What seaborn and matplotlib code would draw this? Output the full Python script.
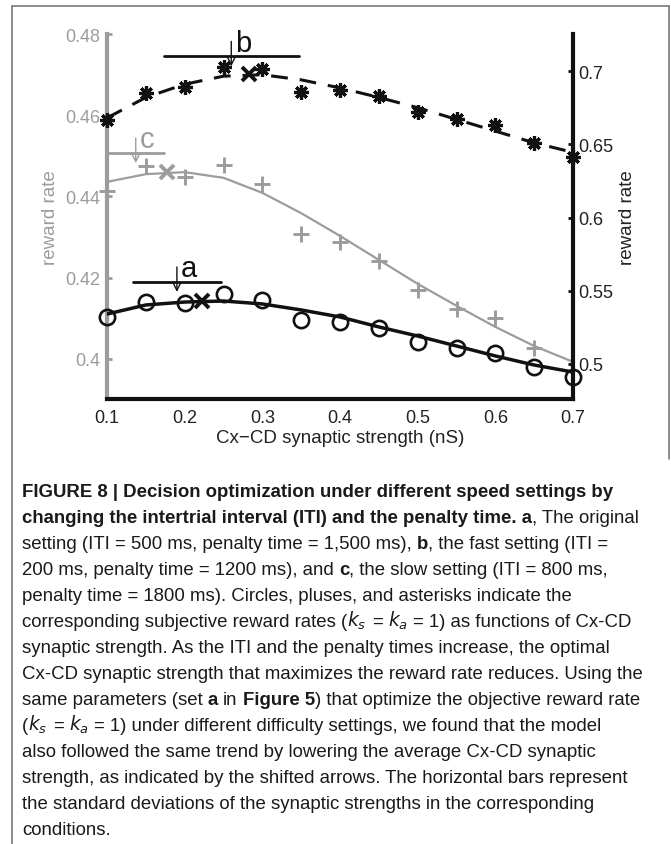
import matplotlib
matplotlib.use("Agg")
import matplotlib.pyplot as plt
import seaborn as sns
from matplotlib.transforms import ScaledTranslation
from matplotlib.lines import Line2D

# ---------------- data ----------------
x_strength = [0.1, 0.15, 0.2, 0.25, 0.3, 0.35, 0.4, 0.45, 0.5, 0.55, 0.6, 0.65, 0.7]

# a: original setting (circles, right axis)
circles_a = [0.5321, 0.5423, 0.5416, 0.5478, 0.5437, 0.5300, 0.5287, 0.5246,
             0.5150, 0.5109, 0.5075, 0.4980, 0.4911]
fit_a = [0.5341, 0.5403, 0.5423, 0.5430, 0.5410, 0.5369, 0.5321, 0.5253,
         0.5191, 0.5123, 0.5055, 0.4993, 0.4945]

# b: fast setting (asterisks, right axis)
asterisks_b = [0.6666, 0.6850, 0.6891, 0.7027, 0.7014, 0.6857, 0.6870, 0.6829,
               0.6720, 0.6672, 0.6631, 0.6509, 0.6413]
fit_b = [0.668, 0.682, 0.691, 0.6965, 0.6975, 0.694, 0.6885, 0.682,
         0.675, 0.667, 0.659, 0.651, 0.6445]

# c: slow setting (pluses, left axis)
x_pluses = [0.1, 0.15, 0.2, 0.25, 0.3, 0.35, 0.4, 0.45, 0.5, 0.55, 0.6, 0.65]
pluses_c = [0.4414, 0.4475, 0.4448, 0.4478, 0.4431, 0.4308, 0.4288, 0.4241,
            0.4170, 0.4123, 0.4101, 0.4027]
fit_c = [0.4436, 0.4455, 0.4460, 0.4446, 0.4409, 0.4359, 0.4303, 0.4244,
         0.4185, 0.4131, 0.4079, 0.4032, 0.3993]

# optimum of each fitted curve (x markers)
opt_labels = ["a", "b", "c"]
opt_x = [0.222, 0.2825, 0.177]
opt_y = [0.543, 0.698, 0.446]

# mean +/- SD of the synaptic strengths (bars with arrows)
sd_mean = [0.19, 0.26, 0.137]
sd_dev = [0.057, 0.087, 0.037]
sd_level = [0.556, 0.710, 0.4507]

x_ticks = [0.1, 0.2, 0.3, 0.4, 0.5, 0.6, 0.7]
x_ticklabels = ["0.1", "0.2", "0.3", "0.4", "0.5", "0.6", "0.7"]
left_ticks = [0.40, 0.42, 0.44, 0.46, 0.48]
left_ticklabels = ["0.4", "0.42", "0.44", "0.46", "0.48"]
right_ticks = [0.50, 0.55, 0.60, 0.65, 0.70]
right_ticklabels = ["0.5", "0.55", "0.6", "0.65", "0.7"]

x_label = "Cx\u2212CD synaptic strength (nS)"
y_label = "reward rate"

caption_lines = [
    [("FIGURE 8 | Decision optimization under different speed settings by", "bold")],
    [("changing the intertrial interval (ITI) and the penalty time. a", "bold"),
     (", The original", "normal")],
    [("setting (ITI = 500 ms, penalty time = 1,500 ms), ", "normal"), ("b", "bold"),
     (", the fast setting (ITI =", "normal")],
    [("200 ms, penalty time = 1200 ms), and ", "normal"), ("c", "bold"),
     (", the slow setting (ITI = 800 ms,", "normal")],
    [("penalty time = 1800 ms). Circles, pluses, and asterisks indicate the", "normal")],
    [("corresponding subjective reward rates (", "normal"), ("$k_s$", "math"),
     (" = ", "normal"), ("$k_a$", "math"), (" = 1) as functions of Cx-CD", "normal")],
    [("synaptic strength. As the ITI and the penalty times increase, the optimal", "normal")],
    [("Cx-CD synaptic strength that maximizes the reward rate reduces. Using the", "normal")],
    [("same parameters (set ", "normal"), ("a", "bold"), (" in ", "normal"),
     ("Figure 5", "bold"), (") that optimize the objective reward rate", "normal")],
    [("(", "normal"), ("$k_s$", "math"), (" = ", "normal"), ("$k_a$", "math"),
     (" = 1) under different difficulty settings, we found that the model", "normal")],
    [("also followed the same trend by lowering the average Cx-CD synaptic", "normal")],
    [("strength, as indicated by the shifted arrows. The horizontal bars represent", "normal")],
    [("the standard deviations of the synaptic strengths in the corresponding", "normal")],
    [("conditions.", "normal")],
]

# ---------------- style ----------------
sns.set_theme(style="white")
plt.rcParams["font.family"] = ["Liberation Sans", "DejaVu Sans"]
plt.rcParams["axes.unicode_minus"] = True

GRAY = "#9c9c9c"
BLACK = "#111111"
W, H = 671, 845
fig = plt.figure(figsize=(W / 100, H / 100), dpi=100)
fig.patch.set_facecolor("white")

ax = fig.add_axes([107 / W, 1 - 400 / H, 466 / W, 365 / H])
ax2 = ax.twinx()
ax.set_facecolor("none")
ax2.set_facecolor("none")

# ---------------- series ----------------
# c (gray, left axis)
sns.lineplot(x=x_strength, y=fit_c, ax=ax, color=GRAY, lw=1.6, zorder=2)
sns.lineplot(x=x_pluses, y=pluses_c, ax=ax, color=GRAY, linestyle="none",
             marker="+", ms=11, mew=2.1, mec=GRAY, zorder=3, clip_on=False)

# a (black solid, right axis)
sns.lineplot(x=x_strength, y=fit_a, ax=ax2, color=BLACK, lw=2.5, zorder=2)
sns.lineplot(x=x_strength, y=circles_a, ax=ax2, color=BLACK, linestyle="none",
             marker="o", ms=11, mew=1.9, mec=BLACK, mfc="none", zorder=3,
             clip_on=False)

# b (black dashed, right axis)
sns.lineplot(x=x_strength, y=fit_b, ax=ax2, color=BLACK, lw=2.2,
             linestyle=(0, (5.5, 3.9)), zorder=2)
sns.lineplot(x=x_strength, y=asterisks_b, ax=ax2, color=BLACK, linestyle="none",
             marker=(8, 2, 0), ms=10.5, mew=2.3, mec=BLACK, zorder=3,
             clip_on=False)

# optimum markers
axes_of = {"a": ax2, "b": ax2, "c": ax}
color_of = {"a": BLACK, "b": BLACK, "c": GRAY}
for lab, xo, yo in zip(opt_labels, opt_x, opt_y):
    sns.lineplot(x=[xo], y=[yo], ax=axes_of[lab], color=color_of[lab],
                 linestyle="none", marker="x", ms=10, mew=2.8, mec=color_of[lab],
                 zorder=4, clip_on=False)

# SD bars, arrows and letters
def px(dx, dy):
    return ScaledTranslation(dx / 100, dy / 100, fig.dpi_scale_trans)

for lab, m, s, yl in zip(opt_labels, sd_mean, sd_dev, sd_level):
    a_ = axes_of[lab]
    c_ = color_of[lab]
    sns.lineplot(x=[m - s, m + s], y=[yl, yl], ax=a_, color=c_, lw=2.0, zorder=4,
                 clip_on=False)
    a_.annotate("", xy=(m, yl), xycoords=a_.transData + px(0, -10),
                xytext=(m, yl), textcoords=a_.transData + px(0, 15),
                arrowprops=dict(arrowstyle="->", lw=1.0, color=c_,
                                mutation_scale=13, shrinkA=0, shrinkB=0),
                zorder=5)
    a_.annotate(lab, xy=(m, yl), xytext=(3, 4), textcoords="offset points",
                ha="left", va="baseline", fontsize=21, color=c_, zorder=5)

# ---------------- axes ----------------
ax.set_xlim(0.1, 0.7)
ax.set_ylim(0.39015, 0.48)
ax2.set_ylim(0.4761, 0.7253)

ax.set_xticks(x_ticks)
ax.set_xticklabels(x_ticklabels)
ax.set_yticks(left_ticks)
ax.set_yticklabels(left_ticklabels)
ax2.set_yticks(right_ticks)
ax2.set_yticklabels(right_ticklabels)

for sp in ["top", "right"]:
    ax.spines[sp].set_visible(False)
for sp in ["top", "left", "bottom"]:
    ax2.spines[sp].set_visible(False)
ax.spines["left"].set_color(GRAY)
ax.spines["left"].set_linewidth(3.0)
ax.spines["bottom"].set_color(BLACK)
ax.spines["bottom"].set_linewidth(3.0)
ax2.spines["right"].set_color(BLACK)
ax2.spines["right"].set_linewidth(3.0)

TICK_FS = 13
ax.tick_params(axis="y", colors=GRAY, direction="in", length=3.5, width=2,
               labelsize=TICK_FS, pad=5)
ax.tick_params(axis="x", colors=BLACK, direction="in", length=3.5, width=2,
               labelsize=TICK_FS, pad=7.5, labelcolor="#222222")
ax2.tick_params(axis="y", colors=BLACK, direction="in", length=3.5, width=2,
                labelsize=TICK_FS, pad=3.5, labelcolor="#222222")

LABEL_FS = 13.5
ax.set_xlabel(x_label, fontsize=LABEL_FS, color="#222222", labelpad=2)
ax.set_ylabel(y_label, fontsize=LABEL_FS, color=GRAY, va="center")
ax.yaxis.set_label_coords(-0.1223, 0.5)
ax2.set_ylabel(y_label, fontsize=LABEL_FS, color="#222222", va="center", rotation=90)
ax2.yaxis.set_label_coords(1.118, 0.5)

# ---------------- frame ----------------
def fig_line(x0, y0, x1, y1):
    fig.add_artist(Line2D([x0 / W, x1 / W], [1 - y0 / H, 1 - y1 / H],
                          transform=fig.transFigure, color="#6e6e6e", lw=1.1))

fig_line(12, 7, 669, 7)
fig_line(12, 7, 12, 845)
fig_line(669, 7, 669, 460)

# ---------------- caption ----------------
cap_family = ["Liberation Sans Narrow", "Liberation Sans", "DejaVu Sans"]
renderer = fig.canvas.get_renderer()


def make_text(x, y, s, kind, fs):
    kw = dict(fontsize=fs, color="#1a1a1a", ha="left", va="baseline")
    if kind == "bold":
        kw["fontweight"] = "bold"
    if kind != "math":
        kw["family"] = cap_family
    return fig.text(x / W, 1 - y / H, s, **kw)


def width_of(s, kind, fs):
    t = make_text(0, 0, s, kind, fs)
    w = t.get_window_extent(renderer).width
    t.remove()
    return w


def layout(fs, draw):
    sp = width_of("n n", "normal", fs) - width_of("nn", "normal", fs)
    widths = []
    for i, segs in enumerate(caption_lines):
        x = 22.0
        y = 497 + i * 26.0
        for txt, kind in segs:
            lead = len(txt) - len(txt.lstrip(" "))
            trail = len(txt) - len(txt.rstrip(" "))
            core = txt.strip(" ")
            x += lead * sp
            if draw:
                t = make_text(x, y, core, kind, fs)
                w = t.get_window_extent(renderer).width
            else:
                w = width_of(core, kind, fs)
            x += w + trail * sp
        widths.append(x - 22.0)
    return max(widths)


base_fs = 13.5
maxw = layout(base_fs, draw=False)
fs = base_fs * 622.0 / maxw
layout(fs, draw=True)

fig.savefig("out.png", dpi=100, facecolor="white")
